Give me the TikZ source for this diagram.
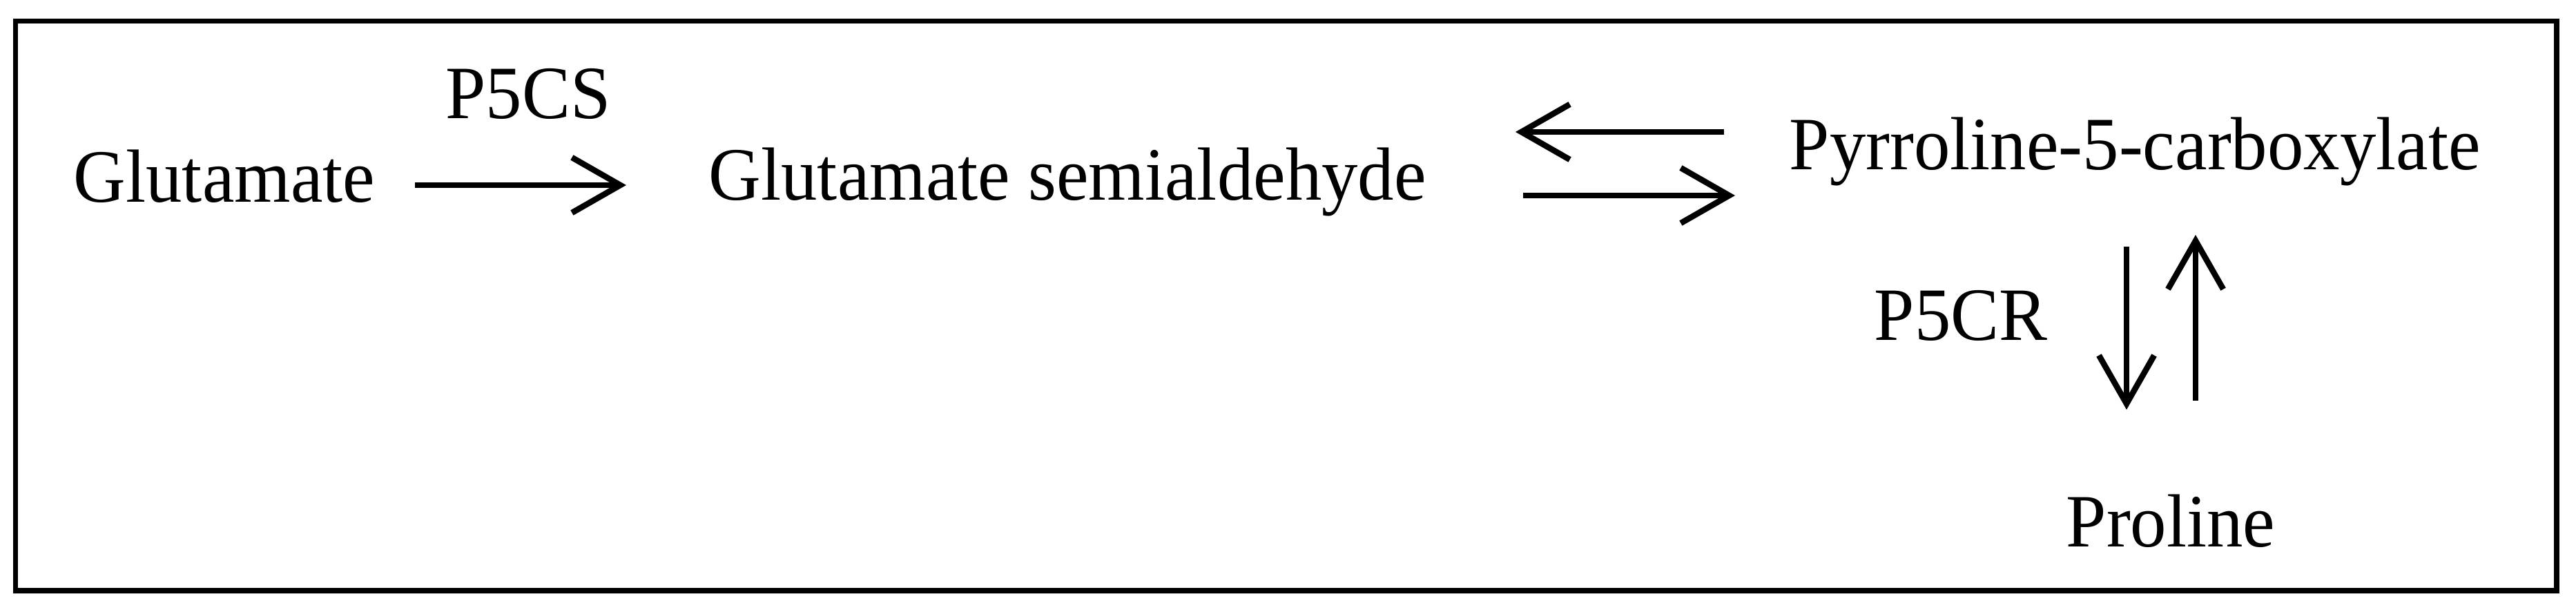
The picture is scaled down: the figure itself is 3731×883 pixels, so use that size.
\documentclass[tikz,border=0pt]{standalone}
\usepackage{fontspec}
\usepackage{graphicx}
\setmainfont{Liberation Serif}
\usetikzlibrary{arrows.meta}
\newcommand\talltext[1]{\scalebox{1}[1.04]{#1}}
\begin{document}
\begin{tikzpicture}[x=0.01cm,y=-0.01cm,
  lbl/.style={anchor=base west, inner sep=0pt, font=\fontsize{29.8pt}{36pt}\selectfont},
  rxn/.style={line width=0.085cm, -{Straight Barb[length=0.70cm,width=0.80cm,sharp]}},
  frame/.style={line width=0.075cm}]
\useasboundingbox (0,0) rectangle (3731,883);
\draw[frame] (22.5,30.7) rectangle (3703,855);
% compounds and enzymes
\node[lbl] (glu)  at (106,293)  {\talltext{Glutamate}};
\node[lbl] (p5cs) at (645,172)  {\talltext{P5CS}};
\node[lbl] (gsa)  at (1026,290) {\talltext{Glutamate semialdehyde}};
\node[lbl] (p5c)  at (2591,246) {\talltext{Pyrroline-5-carboxylate}};
\node[lbl] (p5cr) at (2714,493) {\talltext{P5CR}};
\node[lbl] (pro)  at (2992,792) {\talltext{Proline}};
% arrow end points
\coordinate (a1s) at (601,268);   \coordinate (a1e) at (907,268);
\coordinate (a2s) at (2497,191);  \coordinate (a2e) at (2195,191);
\coordinate (a3s) at (2206,283);  \coordinate (a3e) at (2513,283);
\coordinate (a4s) at (3080,357);  \coordinate (a4e) at (3080,593);
\coordinate (a5s) at (3180,580);  \coordinate (a5e) at (3180,340);
\draw[rxn] (a1s) -- (a1e);
\draw[rxn] (a2s) -- (a2e);
\draw[rxn] (a3s) -- (a3e);
\draw[rxn] (a4s) -- (a4e);
\draw[rxn] (a5s) -- (a5e);
\end{tikzpicture}
\end{document}
